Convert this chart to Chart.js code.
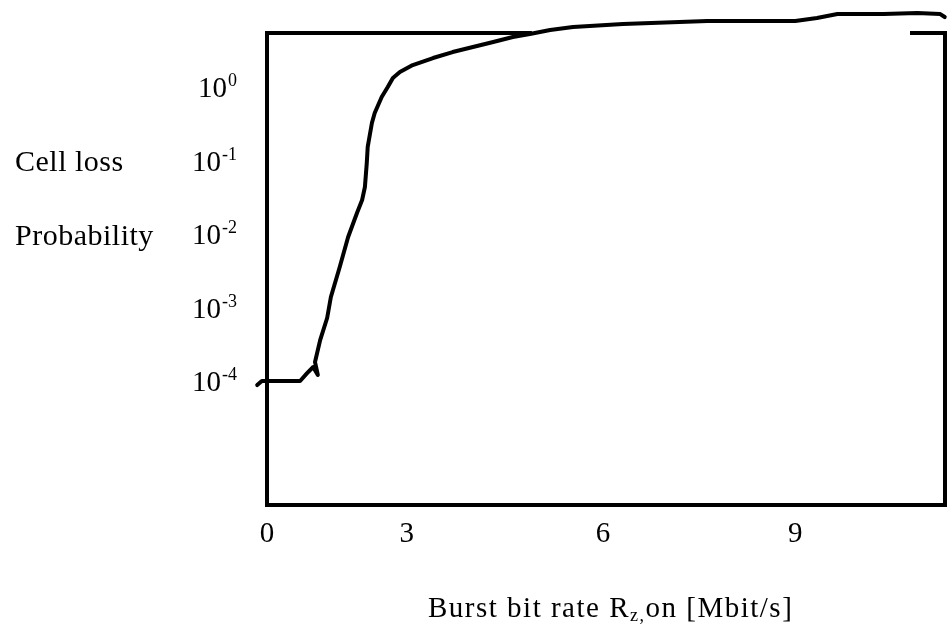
<!DOCTYPE html>
<html>
<head>
<meta charset="utf-8">
<script src="https://cdn.jsdelivr.net/npm/chart.js@4.4.1/dist/chart.umd.min.js"></script>
<style>
  body { margin: 0; background: #ffffff; }
  #lossChart { display: block; }
</style>
</head>
<body>
<canvas id="lossChart" width="950" height="630"></canvas>
<script>
// Burst bit rate [Mbit/s] and cell loss probability along the curve
var burstRate = [-0.21, -0.11, 0.71, 0.86, 0.99, 1.09, 1.03, 1.14, 1.29, 1.37, 1.56, 1.74, 1.93, 2.04,
                 2.10, 2.14, 2.16, 2.25, 2.31, 2.46, 2.59, 2.70, 2.85, 3.09, 3.40, 3.70, 4.01, 4.32,
                 4.62, 4.88, 5.19, 5.54, 6.31, 7.63, 8.30, 9.00, 9.34, 9.66, 10.38, 10.91, 11.27, 11.34];
var cellLoss = [8.8e-5, 1.0e-4, 1.0e-4, 1.28e-4, 1.55e-4, 1.21e-4, 1.81e-4, 3.6e-4, 7.2e-4, 1.39e-3,
                3.56e-3, 9.1e-3, 1.93e-2, 2.9e-2, 4.36e-2, 9.25e-2, 0.153, 0.324, 0.443, 0.731, 1.0,
                1.33, 1.60, 1.99, 2.48, 2.99, 3.50, 4.10, 4.79, 5.26, 5.97, 6.55, 7.20, 7.91, 7.91,
                7.91, 8.69, 9.84, 9.84, 10.2, 9.84, 8.96];

var xTickValues = [0, 3, 6, 9];
var yTickValues = [1e-4, 1e-3, 1e-2, 1e-1, 1];
var yTitleLines = ["Cell loss", "Probability"];

// the printed x axis is not evenly spaced: value -> fraction of the axis width
var xAxisStops = [[0, 0], [3, 0.206], [6, 0.495], [9, 0.778], [11.36, 1]];

var serif = "'Liberation Serif', 'Times New Roman', serif";

class PiecewiseScale extends Chart.LinearScale
{
  stopDecimal(value)
  {
    var s = xAxisStops;
    var i = 0;
    while (i < s.length - 2 && value > s[i + 1][0]) i++;
    return s[i][1] + (value - s[i][0]) * (s[i + 1][1] - s[i][1]) / (s[i + 1][0] - s[i][0]);
  }

  getPixelForValue(value)
  {
    if (value === null || value === undefined) return NaN;
    return this.getPixelForDecimal(this.stopDecimal(value));
  }

  getValueForPixel(pixel)
  {
    var d = this.getDecimalForPixel(pixel);
    var s = xAxisStops;
    var i = 0;
    while (i < s.length - 2 && d > s[i + 1][1]) i++;
    return s[i][0] + (d - s[i][1]) * (s[i + 1][0] - s[i][0]) / (s[i + 1][1] - s[i][1]);
  }
}
PiecewiseScale.id = "piecewise";
PiecewiseScale.defaults = Chart.LinearScale.defaults;
Chart.register(PiecewiseScale);

// frame, tick labels with superscripts and axis titles
var paperPlugin = {
  id: "paper",
  beforeDatasetsDraw: function(chart)
  {
    var ctx = chart.ctx;
    var a = chart.chartArea;
    var pts = chart.getDatasetMeta(0).data;

    // top rule stops where the curve runs into it
    var cross = a.right;
    for (var i = 0; i < pts.length; i++)
    {
      if (pts[i].y <= a.top + 2) { cross = pts[i].x; break; }
    }

    ctx.save();
    ctx.strokeStyle = "#000";
    ctx.lineCap = "square";
    ctx.lineWidth = 4;
    ctx.beginPath();
    ctx.moveTo(a.left, a.bottom); ctx.lineTo(a.left, a.top); ctx.lineTo(cross, a.top);
    ctx.stroke();
    ctx.beginPath();
    ctx.moveTo(a.right - 34, a.top); ctx.lineTo(a.right - 1, a.top);
    ctx.lineTo(a.right - 1, a.bottom); ctx.lineTo(a.left, a.bottom);
    ctx.stroke();
    ctx.restore();
  },
  afterDraw: function(chart)
  {
    var ctx = chart.ctx;
    var xs = chart.scales.x;
    var ys = chart.scales.y;
    var a = chart.chartArea;
    ctx.save();
    ctx.fillStyle = "#000";
    ctx.textBaseline = "alphabetic";

    // y ticks: 10 with the exponent raised
    ys.ticks.forEach(function(t) {
      var y = ys.getPixelForValue(t.value);
      var sup = String(Math.round(Math.log10(t.value)));
      ctx.font = "18px " + serif;
      var supW = ctx.measureText(sup).width;
      ctx.textAlign = "left";
      ctx.fillText(sup, 237 - supW, y - 1);
      ctx.font = "29px " + serif;
      ctx.textAlign = "right";
      ctx.fillText("10", 236 - supW, y + 10);
    });

    // x ticks
    ctx.font = "29px " + serif;
    ctx.textAlign = "center";
    xs.ticks.forEach(function(t) {
      ctx.fillText(String(t.value), xs.getPixelForValue(t.value), a.bottom + 37);
    });

    // y title, one line beside the 10^-1 and 10^-2 ticks
    ctx.font = "30px " + serif;
    ctx.textAlign = "left";
    ctx.letterSpacing = "0.5px";
    ctx.fillText(yTitleLines[0], 15, ys.getPixelForValue(1e-1) + 10);
    ctx.fillText(yTitleLines[1], 15, ys.getPixelForValue(1e-2) + 11);

    // x title with subscript
    var x = 428, base = a.bottom + 112;
    ctx.letterSpacing = "1.5px";
    ctx.font = "29px " + serif;
    ctx.fillText("Burst bit rate R", x, base);
    x += ctx.measureText("Burst bit rate R").width;
    ctx.font = "18px " + serif;
    ctx.fillText("z,", x, base + 4);
    x += ctx.measureText("z,").width;
    ctx.font = "29px " + serif;
    ctx.fillText("on [Mbit/s]", x, base);
    ctx.restore();
  }
};

var curvePoints = burstRate.map(function(r, i) {
  return { x: r, y: cellLoss[i] };
});

var lossChart = new Chart(document.getElementById("lossChart"), {
  type: "line",
  data: {
    datasets: [{
      data: curvePoints,
      borderColor: "#000",
      borderWidth: 4,
      pointRadius: 0,
      tension: 0,
      fill: false,
      clip: false,
      borderJoinStyle: "round",
      borderCapStyle: "round"
    }]
  },
  options: {
    responsive: false,
    animation: false,
    layout: { padding: { top: 33, right: 4, left: 0, bottom: 0 } },
    plugins: { legend: { display: false }, tooltip: { enabled: false } },
    scales: {
      x: {
        type: "piecewise",
        min: 0,
        max: 11.36,
        grid: { display: false },
        border: { display: false },
        ticks: { display: false },
        afterBuildTicks: function(s) { s.ticks = xTickValues.map(function(v) { return { value: v }; }); },
        afterFit: function(s) { s.height = 125; }
      },
      y: {
        type: "logarithmic",
        min: Math.pow(10, -5.687),
        max: Math.pow(10, 0.735),
        grid: { display: false },
        border: { display: false },
        ticks: { display: false },
        afterBuildTicks: function(s) { s.ticks = yTickValues.map(function(v) { return { value: v }; }); },
        afterFit: function(s) { s.width = 267; }
      }
    }
  },
  plugins: [paperPlugin]
});
</script>
</body>
</html>
